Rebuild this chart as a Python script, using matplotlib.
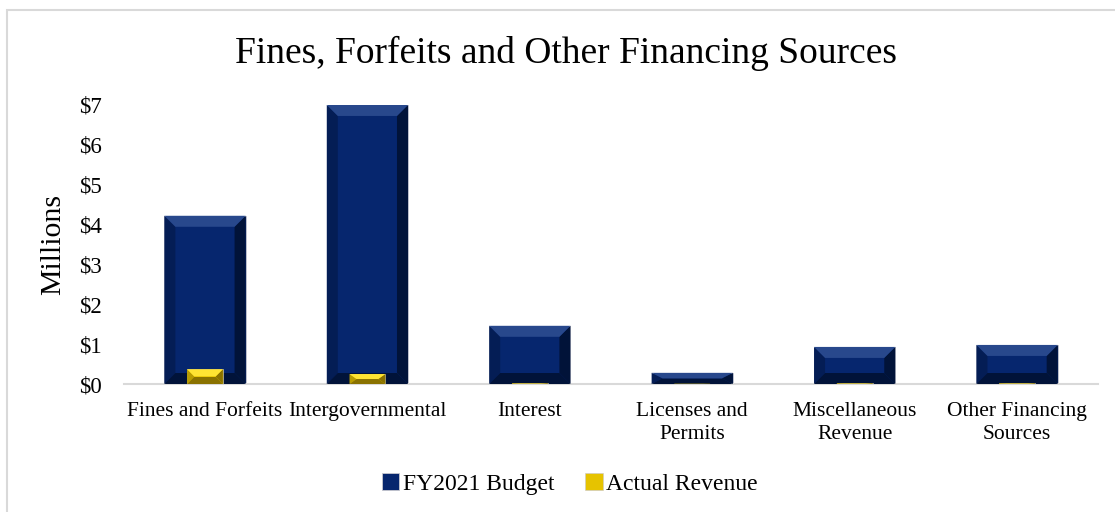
import numpy as np
import matplotlib.pyplot as plt
from matplotlib.patches import Polygon, Rectangle

plt.rcParams['font.family'] = ['Liberation Serif', 'DejaVu Serif']

categories = ['Fines and Forfeits', 'Intergovernmental', 'Interest',
              'Licenses and\nPermits', 'Miscellaneous\nRevenue', 'Other Financing\nSources']
budget = [4.22, 7.0, 1.46, 0.28, 0.93, 0.98]
actual = [0.37, 0.25, 0.02, 0.01, 0.02, 0.02]
ticks = [0, 1, 2, 3, 4, 5, 6, 7]
tick_labels = ['$' + str(t) for t in ticks]

navy = ['#06266e', '#28488c', '#011339', '#041d55', '#0a2a70']
gold = ['#e6c300', '#ffe433', '#8a7200', '#b89c00', '#f0cf10']

fig = plt.figure(figsize=(11.15, 5.12), dpi=100)
ax = fig.add_axes([0.111, 0.25, 0.874, 0.545])

x = np.arange(len(categories))
b1 = ax.bar(x, budget, width=0.5, color=navy[0], edgecolor='#c8c8d0', linewidth=0.6,
            label='FY2021 Budget', zorder=2)
b2 = ax.bar(x, actual, width=0.22, color=gold[0], edgecolor='#c8c8d0', linewidth=0.4,
            label='Actual Revenue', zorder=4)

ax.set_xlim(-0.5, len(categories) - 0.5)
ax.set_ylim(0, 7)


def bevel(bars, cols, z, px=9):
    # pixel size of the bevel converted into data units
    fig.canvas.draw()
    inv = ax.transData.inverted()
    p0 = inv.transform((0, 0))
    p1 = inv.transform((px, px))
    dx, dy = p1[0] - p0[0], p1[1] - p0[1]
    for r in bars:
        x0, w, h = r.get_x(), r.get_width(), r.get_height()
        if h <= 0:
            continue
        x1 = x0 + w
        by = min(dy, h / 2)
        bx = min(dx, w / 2)
        top = [(x0, h), (x1, h), (x1 - bx, h - by), (x0 + bx, h - by)]
        bot = [(x0, 0), (x1, 0), (x1 - bx, by), (x0 + bx, by)]
        rgt = [(x1, h), (x1, 0), (x1 - bx, by), (x1 - bx, h - by)]
        lft = [(x0, h), (x0, 0), (x0 + bx, by), (x0 + bx, h - by)]
        ax.add_patch(Polygon(lft, closed=True, color=cols[3], lw=0, zorder=z))
        ax.add_patch(Polygon(rgt, closed=True, color=cols[2], lw=0, zorder=z))
        ax.add_patch(Polygon(bot, closed=True, color=cols[2], lw=0, zorder=z))
        ax.add_patch(Polygon(top, closed=True, color=cols[1], lw=0, zorder=z))


bevel(b1, navy, 3, px=11)
bevel(b2, gold, 5, px=7)

ax.set_yticks(ticks)
ax.set_yticklabels(tick_labels, fontsize=16.5)
ax.set_xticks(x)
ax.set_xticklabels(categories, fontsize=15.5, linespacing=1.3)
ax.tick_params(length=0)
ax.tick_params(axis='y', pad=16)
ax.tick_params(axis='x', pad=13)
for s in ['top', 'right', 'left']:
    ax.spines[s].set_visible(False)
ax.spines['bottom'].set_color('#d9d9d9')
ax.spines['bottom'].set_linewidth(1.5)
ax.set_ylabel('Millions', fontsize=21.5, labelpad=9)

fig.text(0.508, 0.895, 'Fines, Forfeits and Other Financing Sources',
         ha='center', va='center', fontsize=27)

leg = fig.legend(handles=[b1, b2], loc='center', bbox_to_anchor=(0.511, 0.055),
                 ncol=2, frameon=False, fontsize=17, handlelength=0.75,
                 handleheight=0.75, handletextpad=0.15, columnspacing=1.3)

fig.patches.append(Rectangle((0.0065, -0.1), 1.2, 1.08, transform=fig.transFigure,
                             fill=False, edgecolor='#d9d9d9', linewidth=1.5))

fig.savefig('out.png', dpi=100)
